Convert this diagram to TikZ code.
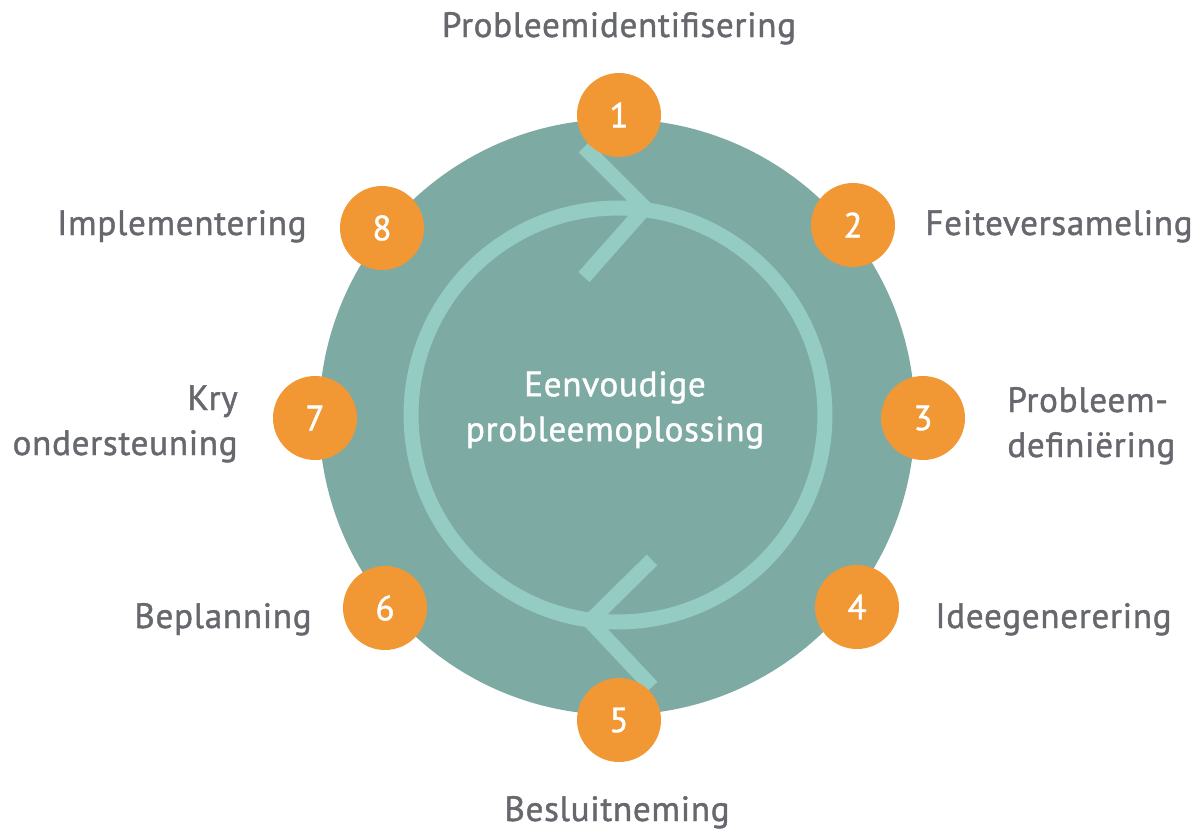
\documentclass[tikz,border=0pt]{standalone}
\usepackage{fontspec}
\setmainfont{PT Sans}[LetterSpace=2, UprightFeatures={FakeBold=1.2}]
\usetikzlibrary{positioning}
\definecolor{cycleteal}{RGB}{126,170,164}
\definecolor{cyclering}{RGB}{148,203,194}
\definecolor{steporange}{RGB}{241,151,52}
\definecolor{labelgray}{RGB}{102,104,110}
\tikzstyle{stepdot} = [circle, fill=steporange, minimum size=1.68cm, inner sep=0pt, text=white, font=\fontsize{20}{25.6}\selectfont]
\tikzstyle{steplabel} = [text=labelgray, inner sep=0pt, font=\fontsize{20}{25.6}\selectfont]
\tikzstyle{ringline} = [draw=cyclering, line width=0.3cm, line join=miter]

\begin{document}
\begin{tikzpicture}[x=0.02cm, y=-0.02cm]
\useasboundingbox (0,0) rectangle (1204,832);

% Disc and cycle ring
\node[circle, fill=cycleteal, minimum size=11.92cm, inner sep=0pt] (disc) at (617,417) {};
\draw[ringline] (618,415) circle (4.14cm);
\draw[ringline] (584,147) -- (645,208) -- (584,277);
\draw[ringline] (652,560) -- (590,621) -- (652,687);

% Centre title
\node[align=center, text=white, inner sep=0pt, font=\fontsize{20}{25.6}\selectfont] (title) at (615,410) {Eenvoudige\\probleemoplossing};

% Step dots
\node[stepdot] (s1) at (619,115) {1};
\node[stepdot] (s2) at (853,225) {2};
\node[stepdot] (s3) at (923,418) {3};
\node[stepdot] (s4) at (857,607) {4};
\node[stepdot] (s5) at (619,720) {5};
\node[stepdot] (s6) at (385,608) {6};
\node[stepdot] (s7) at (315,418) {7};
\node[stepdot] (s8) at (382,228) {8};

% Step labels
\node[steplabel, anchor=base] (l1) at (619,37) {Probleemidentifisering};
\node[steplabel, anchor=base west] (l2) at (925,235) {Feiteversameling};
\node[steplabel, anchor=base west, align=left] (l3) at (1007,457) {Probleem-\\definiëring};
\node[steplabel, anchor=base west] (l4) at (935,628) {Ideegenerering};
\node[steplabel, anchor=base] (l5) at (617,821) {Besluitneming};
\node[steplabel, anchor=base east] (l6) at (312,628) {Beplanning};
\node[steplabel, anchor=base east, align=right] (l7) at (238,455) {Kry\\ondersteuning};
\node[steplabel, anchor=base east] (l8) at (307,235) {Implementering};

\end{tikzpicture}
\end{document}
